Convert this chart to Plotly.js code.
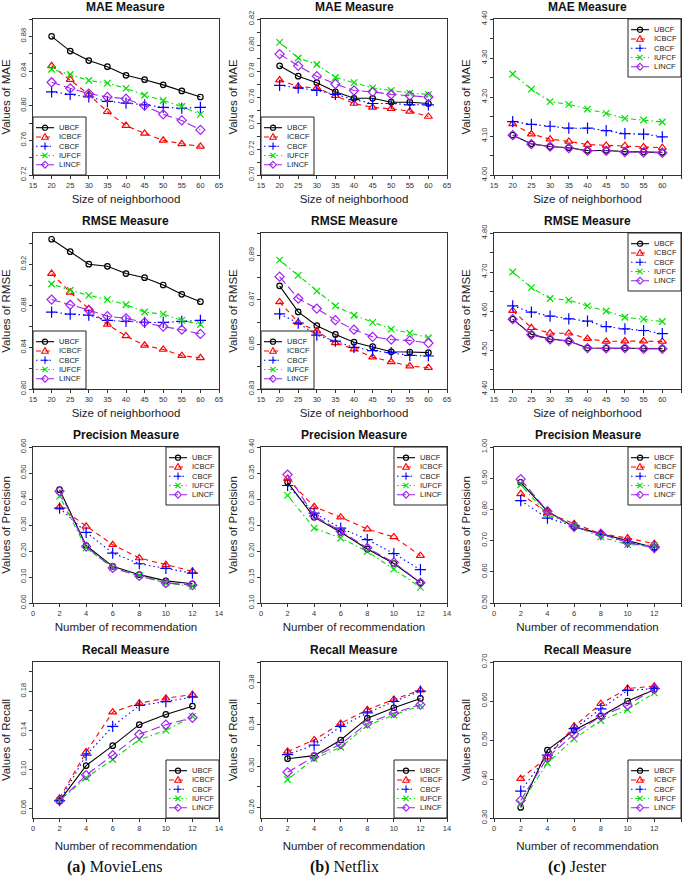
<!DOCTYPE html>
<html><head><meta charset="utf-8">
<script src="https://cdn.plot.ly/plotly-3.0.1.min.js"></script>
<style>html,body{margin:0;padding:0;background:#fff}</style>
</head><body><div id="chart" style="width:685px;height:877px"></div>
<script>
// ---------------- DATA ----------------
const methods = ['UBCF', 'ICBCF', 'CBCF', 'IUFCF', 'LINCF'];
const neighborhoodSizes = [20, 25, 30, 35, 40, 45, 50, 55, 60];
const recommendationCounts = [2, 4, 6, 8, 10, 12];

// rows follow methods order: UBCF, ICBCF, CBCF, IUFCF, LINCF
const maeMovieLens = [
  [0.880, 0.863, 0.852, 0.845, 0.835, 0.830, 0.824, 0.817, 0.810],
  [0.846, 0.830, 0.813, 0.793, 0.777, 0.768, 0.760, 0.756, 0.753],
  [0.816, 0.813, 0.810, 0.805, 0.803, 0.801, 0.798, 0.797, 0.798],
  [0.842, 0.836, 0.829, 0.826, 0.820, 0.812, 0.806, 0.799, 0.790],
  [0.827, 0.820, 0.814, 0.810, 0.808, 0.800, 0.790, 0.783, 0.772]
];
const maeNetflix = [
  [0.784, 0.776, 0.771, 0.764, 0.759, 0.759, 0.756, 0.756, 0.755],
  [0.773, 0.768, 0.767, 0.761, 0.755, 0.752, 0.751, 0.749, 0.745],
  [0.769, 0.767, 0.765, 0.762, 0.758, 0.755, 0.755, 0.754, 0.754],
  [0.802, 0.790, 0.785, 0.775, 0.771, 0.767, 0.765, 0.763, 0.762],
  [0.793, 0.784, 0.776, 0.770, 0.765, 0.764, 0.762, 0.761, 0.760]
];
const maeJester = [
  [4.102, 4.080, 4.073, 4.070, 4.063, 4.063, 4.060, 4.059, 4.058],
  [4.131, 4.105, 4.092, 4.086, 4.078, 4.076, 4.075, 4.072, 4.070],
  [4.137, 4.130, 4.125, 4.120, 4.120, 4.114, 4.106, 4.105, 4.098],
  [4.259, 4.220, 4.188, 4.181, 4.169, 4.158, 4.145, 4.141, 4.136],
  [4.102, 4.079, 4.073, 4.069, 4.062, 4.062, 4.059, 4.058, 4.057]
];
const rmseMovieLens = [
  [0.944, 0.932, 0.920, 0.918, 0.911, 0.907, 0.900, 0.891, 0.884],
  [0.911, 0.893, 0.877, 0.862, 0.851, 0.842, 0.838, 0.832, 0.830],
  [0.874, 0.872, 0.871, 0.866, 0.865, 0.864, 0.864, 0.865, 0.866],
  [0.901, 0.895, 0.890, 0.886, 0.881, 0.874, 0.872, 0.866, 0.862],
  [0.886, 0.881, 0.876, 0.870, 0.868, 0.864, 0.860, 0.857, 0.853]
];
const rmseNetflix = [
  [0.8763, 0.8646, 0.8584, 0.8545, 0.8510, 0.8490, 0.8467, 0.8466, 0.8463],
  [0.8691, 0.8599, 0.8560, 0.8507, 0.8479, 0.8443, 0.8422, 0.8403, 0.8396],
  [0.8637, 0.8596, 0.8542, 0.8515, 0.8487, 0.8472, 0.8463, 0.8451, 0.8448],
  [0.8878, 0.8810, 0.8739, 0.8673, 0.8631, 0.8599, 0.8569, 0.8551, 0.8530],
  [0.8804, 0.8706, 0.8661, 0.8609, 0.8566, 0.8534, 0.8522, 0.8518, 0.8506]
];
const rmseJester = [
  [4.579, 4.540, 4.528, 4.523, 4.505, 4.505, 4.505, 4.504, 4.504],
  [4.601, 4.557, 4.543, 4.543, 4.529, 4.522, 4.523, 4.523, 4.522],
  [4.613, 4.597, 4.587, 4.580, 4.574, 4.560, 4.554, 4.550, 4.542],
  [4.700, 4.660, 4.632, 4.628, 4.613, 4.600, 4.584, 4.579, 4.573],
  [4.579, 4.539, 4.527, 4.523, 4.505, 4.504, 4.505, 4.503, 4.503]
];
const precisionMovieLens = [
  [0.436, 0.221, 0.141, 0.109, 0.085, 0.074],
  [0.369, 0.295, 0.224, 0.173, 0.147, 0.122],
  [0.365, 0.272, 0.192, 0.151, 0.133, 0.115],
  [0.410, 0.212, 0.136, 0.105, 0.077, 0.064],
  [0.430, 0.217, 0.135, 0.104, 0.077, 0.069]
];
const precisionNetflix = [
  [0.332, 0.265, 0.236, 0.204, 0.176, 0.139],
  [0.339, 0.285, 0.265, 0.242, 0.227, 0.191],
  [0.326, 0.273, 0.244, 0.222, 0.195, 0.164],
  [0.307, 0.244, 0.225, 0.199, 0.165, 0.130],
  [0.347, 0.268, 0.238, 0.206, 0.178, 0.139]
];
const precisionJester = [
  [0.887, 0.794, 0.744, 0.722, 0.698, 0.678],
  [0.850, 0.789, 0.754, 0.722, 0.708, 0.690],
  [0.828, 0.772, 0.746, 0.719, 0.694, 0.680],
  [0.879, 0.783, 0.748, 0.712, 0.687, 0.684],
  [0.897, 0.794, 0.744, 0.722, 0.694, 0.676]
];
const recallMovieLens = [
  [0.0675, 0.1038, 0.1242, 0.1457, 0.1562, 0.1647],
  [0.0702, 0.1178, 0.1586, 0.1678, 0.1728, 0.1766],
  [0.0678, 0.1144, 0.1440, 0.1654, 0.1694, 0.1739],
  [0.0678, 0.0913, 0.1100, 0.1304, 0.1399, 0.1542],
  [0.0675, 0.0940, 0.1144, 0.1358, 0.1457, 0.1528]
];
const recallNetflix = [
  [0.307, 0.310, 0.325, 0.346, 0.356, 0.365],
  [0.314, 0.325, 0.341, 0.354, 0.364, 0.373],
  [0.311, 0.320, 0.338, 0.351, 0.362, 0.372],
  [0.287, 0.307, 0.318, 0.339, 0.349, 0.358],
  [0.294, 0.309, 0.321, 0.341, 0.351, 0.359]
];
const recallJester = [
  [0.327, 0.474, 0.525, 0.561, 0.600, 0.629],
  [0.401, 0.456, 0.535, 0.593, 0.632, 0.638],
  [0.369, 0.461, 0.529, 0.580, 0.627, 0.632],
  [0.337, 0.441, 0.503, 0.550, 0.578, 0.621],
  [0.345, 0.455, 0.515, 0.561, 0.589, 0.632]
];
const captions = ['<b>(a)</b> MovieLens', '<b>(b)</b> Netflix', '<b>(c)</b> Jester'];

// ---------------- STYLE / LAYOUT ----------------
const W = 685, H = 877;
const FONT = 'Liberation Sans, Arial, sans-serif';
const colX = [[33, 219], [261, 447], [494, 681]];
const rowY = [[19, 175], [233, 389], [447, 603], [662, 818]];
const captionX = [115, 344, 577];
const styles = [
  {color: '#000000', dash: 'solid', symbol: 'circle-open', size: 5.5},
  {color: '#ff0000', dash: '5px,4px', symbol: 'triangle-up-open', size: 7},
  {color: '#0000ff', dash: '1.5px,3px', symbol: 'cross-thin-open', size: 8},
  {color: '#00e000', dash: '1.5px,3px,5px,3px', symbol: 'x-thin-open', size: 6.5},
  {color: '#a020f0', dash: '9px,4px', symbol: 'diamond-open', size: 7}
];

// panels in row-major order
const panels = [
  {d: maeMovieLens, x: neighborhoodSizes, t: 'MAE Measure', yt: 'Values of MAE', yr: [0.72, 0.90], tk: [0.72, 0.90, 0.02, 0.04, 2], leg: 'bl'},
  {d: maeNetflix, x: neighborhoodSizes, t: 'MAE Measure', yt: 'Values of MAE', yr: [0.70, 0.82], tk: [0.70, 0.82, 0.01, 0.02, 2], leg: 'bl'},
  {d: maeJester, x: neighborhoodSizes, t: 'MAE Measure', yt: 'Values of MAE', yr: [4.00, 4.40], tk: [4.00, 4.40, 0.05, 0.10, 2], leg: 'tr'},
  {d: rmseMovieLens, x: neighborhoodSizes, t: 'RMSE Measure', yt: 'Values of RMSE', yr: [0.80, 0.95], tk: [0.80, 0.94, 0.02, 0.04, 2], leg: 'bl'},
  {d: rmseNetflix, x: neighborhoodSizes, t: 'RMSE Measure', yt: 'Values of RMSE', yr: [0.83, 0.90], tk: [0.83, 0.90, 0.01, 0.02, 2], leg: 'bl'},
  {d: rmseJester, x: neighborhoodSizes, t: 'RMSE Measure', yt: 'Values of RMSE', yr: [4.40, 4.80], tk: [4.40, 4.80, 0.05, 0.10, 2], leg: 'tr'},
  {d: precisionMovieLens, x: recommendationCounts, t: 'Precision Measure', yt: 'Values of Precision', yr: [0.0, 0.6], tk: [0.0, 0.6, 0.1, 0.1, 2], leg: 'tr'},
  {d: precisionNetflix, x: recommendationCounts, t: 'Precision Measure', yt: 'Values of Precision', yr: [0.10, 0.40], tk: [0.10, 0.40, 0.05, 0.05, 2], leg: 'tr'},
  {d: precisionJester, x: recommendationCounts, t: 'Precision Measure', yt: 'Values of Precision', yr: [0.50, 1.00], tk: [0.50, 1.00, 0.10, 0.10, 2], leg: 'tr'},
  {d: recallMovieLens, x: recommendationCounts, t: 'Recall Measure', yt: 'Values of Recall', yr: [0.05, 0.21], tk: [0.06, 0.20, 0.02, 0.04, 2], leg: 'br'},
  {d: recallNetflix, x: recommendationCounts, t: 'Recall Measure', yt: 'Values of Recall', yr: [0.25, 0.40], tk: [0.26, 0.40, 0.02, 0.04, 2], leg: 'br'},
  {d: recallJester, x: recommendationCounts, t: 'Recall Measure', yt: 'Values of Recall', yr: [0.30, 0.70], tk: [0.30, 0.70, 0.10, 0.10, 2], leg: 'br'}
];

function makeTicks(lo, hi, step, labelStep, dec) {
  const vals = [], text = [];
  const n = Math.round((hi - lo) / step);
  for (let i = 0; i <= n; i++) {
    const v = +(lo + i * step).toFixed(6);
    vals.push(v);
    const k = (v - lo) / labelStep;
    text.push(Math.abs(k - Math.round(k)) < 1e-6 ? v.toFixed(dec) : '');
  }
  return {vals, text};
}

const traces = [];
const layout = {
  width: W, height: H, margin: {l: 0, r: 0, t: 0, b: 0},
  paper_bgcolor: '#fff', plot_bgcolor: '#fff', showlegend: false,
  font: {family: FONT, color: '#222'},
  shapes: [], annotations: []
};

const px = v => v / W;
const py = v => 1 - v / H;
const LEGW = 53, LEGH = 58;

panels.forEach((p, i) => {
  const row = Math.floor(i / 3), col = i % 3;
  const k = i + 1;
  const xa = k === 1 ? 'x' : 'x' + k, ya = k === 1 ? 'y' : 'y' + k;
  const [x0, x1] = colX[col], [y0, y1] = rowY[row];
  const isNb = p.x === neighborhoodSizes;

  methods.forEach((m, j) => {
    const s = styles[j];
    traces.push({
      type: 'scatter', mode: 'lines+markers', name: m,
      x: p.x, y: p.d[j], xaxis: xa, yaxis: ya, showlegend: false,
      line: {color: s.color, width: 1.1, dash: s.dash},
      marker: {symbol: s.symbol, size: s.size, color: s.color, line: {color: s.color, width: 1.2}}
    });
  });

  const xt = isNb ? makeTicks(15, 65, 5, 5, 0) : makeTicks(0, 14, 2, 2, 0);
  const yt = makeTicks(...p.tk);
  const common = {
    showline: true, mirror: true, linecolor: '#333', linewidth: 1,
    ticks: 'outside', ticklen: 3, tickwidth: 1, tickcolor: '#333',
    showgrid: false, zeroline: false, tickmode: 'array',
    tickfont: {size: 7.5, color: '#333', family: FONT}
  };
  layout['xaxis' + (k === 1 ? '' : k)] = Object.assign({}, common, {
    domain: [px(x0), px(x1)], range: isNb ? [15, 65] : [0, 14], anchor: ya,
    tickvals: xt.vals, ticktext: xt.text,
    title: {text: isNb ? 'Size of neighborhood' : 'Number of recommendation',
            font: {size: 11.5, color: '#222', family: FONT}, standoff: row === 3 ? 9 : 5}
  });
  layout['yaxis' + (k === 1 ? '' : k)] = Object.assign({}, common, {
    domain: [py(y1), py(y0)], range: p.yr, anchor: xa,
    tickvals: yt.vals, ticktext: yt.text, tickangle: -90,
    title: {text: p.yt, font: {size: 11.5, color: '#222', family: FONT}, standoff: 6}
  });

  // subplot title
  layout.annotations.push({
    xref: 'paper', yref: 'paper', x: px((x0 + x1) / 2), y: py(y0 - 12),
    text: p.t, showarrow: false, xanchor: 'center', yanchor: 'middle',
    font: {size: 12, family: FONT, weight: 'bold', color: '#111'}
  });

  // legend box (R-style)
  let lx, ly;
  if (p.leg === 'bl') { lx = x0; ly = y1 - LEGH; }
  else if (p.leg === 'tr') { lx = x1 - LEGW; ly = y0; }
  else { lx = x1 - LEGW; ly = y1 - LEGH; }
  layout.shapes.push({type: 'rect', xref: 'paper', yref: 'paper',
    x0: px(lx), x1: px(lx + LEGW), y0: py(ly + LEGH), y1: py(ly),
    line: {color: '#222', width: 1}, fillcolor: 'rgba(255,255,255,0)'});
  methods.forEach((m, j) => {
    const s = styles[j];
    const cy = ly + 10.7 + j * 9.25;
    layout.shapes.push({type: 'line', xref: 'paper', yref: 'paper',
      x0: px(lx + 3), x1: px(lx + 21), y0: py(cy), y1: py(cy),
      line: {color: s.color, width: 1.1, dash: s.dash}});
    const base = {xref: 'paper', yref: 'paper', xsizemode: 'pixel', ysizemode: 'pixel',
      xanchor: px(lx + 12), yanchor: py(cy), line: {color: s.color, width: 1.1}};
    let shp;
    if (j === 0) shp = Object.assign({type: 'circle', x0: -2.6, x1: 2.6, y0: -2.6, y1: 2.6}, base);
    else if (j === 1) shp = Object.assign({type: 'path', path: 'M-3.3,-2.3L3.3,-2.3L0,3.4Z'}, base);
    else if (j === 2) shp = Object.assign({type: 'path', path: 'M-3.6,0L3.6,0M0,-3.6L0,3.6'}, base);
    else if (j === 3) shp = Object.assign({type: 'path', path: 'M-2.6,-2.6L2.6,2.6M-2.6,2.6L2.6,-2.6'}, base);
    else shp = Object.assign({type: 'path', path: 'M-3.4,0L0,3.4L3.4,0L0,-3.4Z'}, base);
    layout.shapes.push(shp);
    layout.annotations.push({xref: 'paper', yref: 'paper', x: px(lx + 24), y: py(cy),
      text: m, showarrow: false, xanchor: 'left', yanchor: 'middle',
      font: {size: 7.5, family: FONT, color: '#222'}});
  });
});

captions.forEach((c, i) => {
  layout.annotations.push({xref: 'paper', yref: 'paper', x: px(captionX[i]), y: py(867),
    text: c, showarrow: false, xanchor: 'center', yanchor: 'middle',
    font: {size: 16, family: 'Liberation Serif, Times New Roman, serif', color: '#111'}});
});

Plotly.newPlot('chart', traces, layout, {staticPlot: true, displayModeBar: false});
</script>
</body></html>
